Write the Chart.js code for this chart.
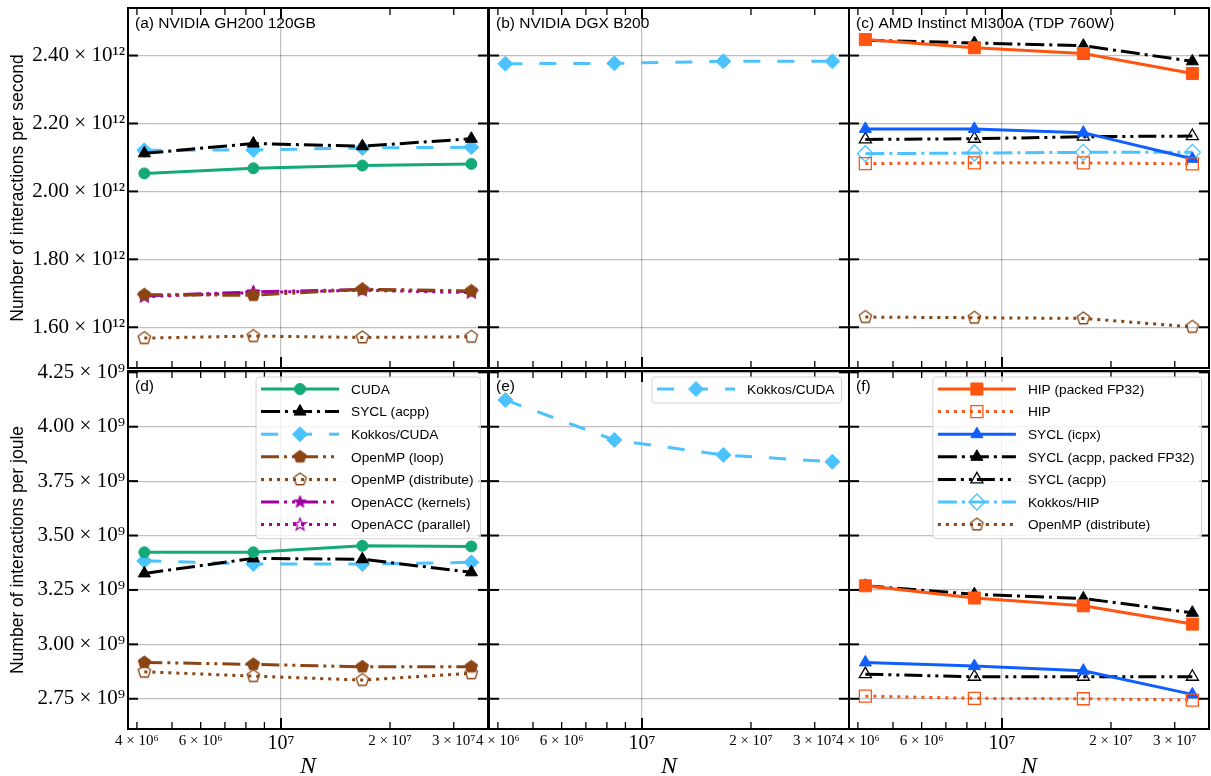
<!DOCTYPE html>
<html>
<head>
<meta charset="utf-8">
<script src="https://cdn.jsdelivr.net/npm/chart.js@4.4.1/dist/chart.umd.min.js"></script>
<style>
  html, body { margin: 0; padding: 0; background: #fff; width: 1211px; height: 776px; overflow: hidden; }
  .panel { position: absolute; }
</style>
</head>
<body>
<div id="wrap"></div>
<script>
// problem sizes N = 2^22 .. 2^25
const N = [4194304, 8388608, 16777216, 33554432];

// (a) NVIDIA GH200, interactions per second
const ghCuda        = [2.053e12, 2.068e12, 2.076e12, 2.081e12];
const ghSycl        = [2.112e12, 2.141e12, 2.133e12, 2.155e12];
const ghKokkos      = [2.121e12, 2.122e12, 2.128e12, 2.130e12];
const ghOmpLoop     = [1.696e12, 1.694e12, 1.712e12, 1.707e12];
const ghOmpDist     = [1.568e12, 1.574e12, 1.570e12, 1.572e12];
const ghAccKernels  = [1.692e12, 1.704e12, 1.711e12, 1.705e12];
const ghAccParallel = [1.690e12, 1.702e12, 1.709e12, 1.702e12];
// (b) NVIDIA DGX B200
const b2Kokkos      = [2.376e12, 2.377e12, 2.383e12, 2.383e12];
// (c) AMD MI300A
const miHipPacked   = [2.447e12, 2.423e12, 2.406e12, 2.347e12];
const miHip         = [2.082e12, 2.084e12, 2.084e12, 2.081e12];
const miSyclIcpx    = [2.184e12, 2.184e12, 2.173e12, 2.096e12];
const miSyclPacked  = [2.445e12, 2.437e12, 2.429e12, 2.383e12];
const miSycl        = [2.153e12, 2.155e12, 2.161e12, 2.163e12];
const miKokkos      = [2.111e12, 2.113e12, 2.115e12, 2.115e12];
const miOmpDist     = [1.630e12, 1.628e12, 1.626e12, 1.601e12];

// (d) GH200, interactions per joule
const ghCudaJ       = [3.423e9, 3.423e9, 3.453e9, 3.450e9];
const ghSyclJ       = [3.326e9, 3.395e9, 3.391e9, 3.331e9];
const ghKokkosJ     = [3.384e9, 3.369e9, 3.369e9, 3.377e9];
const ghOmpLoopJ    = [2.917e9, 2.908e9, 2.897e9, 2.897e9];
const ghOmpDistJ    = [2.874e9, 2.854e9, 2.836e9, 2.867e9];
// (e) B200
const b2KokkosJ     = [4.123e9, 3.939e9, 3.870e9, 3.839e9];
// (f) MI300A
const miHipPackedJ  = [3.269e9, 3.213e9, 3.177e9, 3.093e9];
const miHipJ        = [2.762e9, 2.752e9, 2.750e9, 2.744e9];
const miSyclIcpxJ   = [2.917e9, 2.900e9, 2.879e9, 2.770e9];
const miSyclPackedJ = [3.269e9, 3.230e9, 3.211e9, 3.145e9];
const miSyclJ       = [2.863e9, 2.851e9, 2.851e9, 2.851e9];

// ticks
const xTicks = [4e6, 5e6, 6e6, 7e6, 8e6, 9e6, 1e7, 2e7, 3e7];
const xTickLabels = ['4 × 10⁶', '', '6 × 10⁶', '', '', '', '10⁷', '2 × 10⁷', '3 × 10⁷'];
const yTicksRate = [1.6e12, 1.8e12, 2.0e12, 2.2e12, 2.4e12];
const yLabelsRate = ['1.60 × 10¹²', '1.80 × 10¹²', '2.00 × 10¹²', '2.20 × 10¹²', '2.40 × 10¹²'];
const yTicksEnergy = [2.75e9, 3.0e9, 3.25e9, 3.5e9, 3.75e9, 4.0e9, 4.25e9];
const yLabelsEnergy = ['2.75 × 10⁹', '3.00 × 10⁹', '3.25 × 10⁹', '3.50 × 10⁹', '3.75 × 10⁹', '4.00 × 10⁹', '4.25 × 10⁹'];

const SANS = '"Liberation Sans", Arial, sans-serif';
const SERIF = '"Liberation Serif", "DejaVu Serif", serif';

const GREEN = '#14aa78', BLACK = '#000000', SKY = '#4cc2ff', BROWN = '#8b4513',
      PURPLE = '#a000a0', ORANGE = '#ff5511', BLUE = '#0f5fff';
const SOLID = [], DASH = [17, 17], DASHDOT = [19, 5, 3, 5], DASHDOTDOT = [18, 5, 3, 5, 3, 5], DOT = [3, 5];

// marker images for shapes Chart.js lacks
function polyMarker(n, r, color, isFilled, inner) {
  const s = Math.ceil(2 * r + 4);
  const c = document.createElement('canvas');
  c.width = c.height = s;
  const g = c.getContext('2d');
  g.translate(s / 2, s / 2);
  g.beginPath();
  const k = inner ? 2 * n : n;
  for (let i = 0; i < k; i++) {
    const a = -Math.PI / 2 + i * 2 * Math.PI / k;
    const rr = inner && i % 2 ? r * inner : r;
    g.lineTo(rr * Math.cos(a), rr * Math.sin(a));
  }
  g.closePath();
  if (isFilled) { g.fillStyle = color; g.fill(); }
  g.strokeStyle = color;
  g.lineWidth = isFilled ? 1 : 1.3;
  g.stroke();
  return c;
}
const pentFull = polyMarker(5, 6.5, BROWN, true);
const pentOpen = polyMarker(5, 6.5, BROWN, false);
const starFull = polyMarker(5, 6.5, PURPLE, true, 0.42);
const starOpen = polyMarker(5, 6.5, PURPLE, false, 0.42);

const filled = (style, r, color) => ({ pointStyle: style, pointRadius: r, pointBackgroundColor: color, pointBorderWidth: 1 });
const hollow = (style, r) => ({ pointStyle: style, pointRadius: r, pointBackgroundColor: 'rgba(0,0,0,0)', pointBorderWidth: 1.3 });

function series(label, vals, color, dash, marker) {
  return Object.assign({
    label: label,
    data: vals ? N.map((x, i) => ({ x: x, y: vals[i] })) : [],
    borderColor: color, borderWidth: 3, borderDash: dash,
    borderCapStyle: 'butt', borderJoinStyle: 'round',
    tension: 0, fill: false, pointBorderColor: color, pointHoverRadius: 0
  }, marker);
}

const rows = [
  { top: 8, h: 360, min: 1.48e12, max: 2.54e12, ticks: yTicksRate, labels: yLabelsRate,
    title: 'Number of interactions per second' },
  { top: 371, h: 358, min: 2.611e9, max: 4.256e9, ticks: yTicksEnergy, labels: yLabelsEnergy,
    title: 'Number of interactions per joule' }
];
const colLefts = [128, 489, 849];
const plotW = 360;
const xMin = 3.78e6, xMax = 3.73e7;

const panels = [
  { row: 0, col: 0, title: '(a) NVIDIA GH200 120GB', legend: false, datasets: [
    series('CUDA', ghCuda, GREEN, SOLID, filled('circle', 5.5, GREEN)),
    series('SYCL (acpp)', ghSycl, BLACK, DASHDOT, filled('triangle', 7, BLACK)),
    series('Kokkos/CUDA', ghKokkos, SKY, DASH, filled('rectRot', 7.5, SKY)),
    series('OpenMP (loop)', ghOmpLoop, BROWN, DASHDOTDOT, filled(pentFull, 6)),
    series('OpenMP (distribute)', ghOmpDist, BROWN, DOT, hollow(pentOpen, 6)),
    series('OpenACC (kernels)', ghAccKernels, PURPLE, DASHDOTDOT, filled(starFull, 6)),
    series('OpenACC (parallel)', ghAccParallel, PURPLE, DOT, hollow(starOpen, 6))
  ]},
  { row: 0, col: 1, title: '(b) NVIDIA DGX B200', legend: false, datasets: [
    series('Kokkos/CUDA', b2Kokkos, SKY, DASH, filled('rectRot', 7.5, SKY))
  ]},
  { row: 0, col: 2, title: '(c) AMD Instinct MI300A (TDP 760W)', legend: false, datasets: [
    series('HIP (packed FP32)', miHipPacked, ORANGE, SOLID, filled('rect', 8.5, ORANGE)),
    series('HIP', miHip, ORANGE, DOT, hollow('rect', 8.5)),
    series('SYCL (icpx)', miSyclIcpx, BLUE, SOLID, filled('triangle', 7, BLUE)),
    series('SYCL (acpp, packed FP32)', miSyclPacked, BLACK, DASHDOT, filled('triangle', 7, BLACK)),
    series('SYCL (acpp)', miSycl, BLACK, DASHDOTDOT, hollow('triangle', 7)),
    series('Kokkos/HIP', miKokkos, SKY, DASHDOT, hollow('rectRot', 8)),
    series('OpenMP (distribute)', miOmpDist, BROWN, DOT, hollow(pentOpen, 6))
  ]},
  { row: 1, col: 0, title: '(d)', legend: true, datasets: [
    series('CUDA', ghCudaJ, GREEN, SOLID, filled('circle', 5.5, GREEN)),
    series('SYCL (acpp)', ghSyclJ, BLACK, DASHDOT, filled('triangle', 7, BLACK)),
    series('Kokkos/CUDA', ghKokkosJ, SKY, DASH, filled('rectRot', 7.5, SKY)),
    series('OpenMP (loop)', ghOmpLoopJ, BROWN, DASHDOTDOT, filled(pentFull, 6)),
    series('OpenMP (distribute)', ghOmpDistJ, BROWN, DOT, hollow(pentOpen, 6)),
    series('OpenACC (kernels)', null, PURPLE, DASHDOTDOT, filled(starFull, 6)),
    series('OpenACC (parallel)', null, PURPLE, DOT, hollow(starOpen, 6))
  ]},
  { row: 1, col: 1, title: '(e)', legend: true, datasets: [
    series('Kokkos/CUDA', b2KokkosJ, SKY, DASH, filled('rectRot', 7.5, SKY))
  ]},
  { row: 1, col: 2, title: '(f)', legend: true, datasets: [
    series('HIP (packed FP32)', miHipPackedJ, ORANGE, SOLID, filled('rect', 8.5, ORANGE)),
    series('HIP', miHipJ, ORANGE, DOT, hollow('rect', 8.5)),
    series('SYCL (icpx)', miSyclIcpxJ, BLUE, SOLID, filled('triangle', 7, BLUE)),
    series('SYCL (acpp, packed FP32)', miSyclPackedJ, BLACK, DASHDOT, filled('triangle', 7, BLACK)),
    series('SYCL (acpp)', miSyclJ, BLACK, DASHDOTDOT, hollow('triangle', 7)),
    series('Kokkos/HIP', null, SKY, DASHDOT, hollow('rectRot', 8)),
    series('OpenMP (distribute)', null, BROWN, DOT, hollow(pentOpen, 6))
  ]}
];

function drawMarker(ctx, d, x, y) {
  ctx.save();
  ctx.setLineDash([]);
  ctx.fillStyle = d.pointBackgroundColor || d.borderColor;
  ctx.strokeStyle = d.pointBorderColor;
  ctx.lineWidth = d.pointBorderWidth;
  if (Chart.helpers && Chart.helpers.drawPoint) {
    Chart.helpers.drawPoint(ctx, { pointStyle: d.pointStyle, radius: d.pointRadius, rotation: 0, borderWidth: d.pointBorderWidth }, x, y);
  }
  ctx.restore();
}

function drawLegend(chart, ctx, a) {
  const ds = chart.data.datasets;
  ctx.font = '13.7px ' + SANS;
  const tw = Math.max.apply(null, ds.map(d => ctx.measureText(d.label).width));
  const rowH = 22.6, lineLen = 78;
  const w = 5 + lineLen + 12 + tw + 7;
  const h = 12 + rowH * (ds.length - 1) + 14;
  const bx = a.right - 7.5 - w, by = a.top + 6;
  ctx.save();
  ctx.beginPath();
  if (ctx.roundRect) ctx.roundRect(bx, by, w, h, 3); else ctx.rect(bx, by, w, h);
  ctx.fillStyle = 'rgba(255,255,255,0.8)';
  ctx.fill();
  ctx.strokeStyle = '#d4d4d4';
  ctx.lineWidth = 1;
  ctx.stroke();
  ds.forEach((d, i) => {
    const cy = by + 12 + i * rowH;
    ctx.setLineDash(d.borderDash);
    ctx.lineCap = 'butt';
    ctx.strokeStyle = d.borderColor;
    ctx.lineWidth = d.borderWidth;
    ctx.beginPath();
    ctx.moveTo(bx + 5, cy);
    ctx.lineTo(bx + 5 + lineLen, cy);
    ctx.stroke();
    ctx.setLineDash([]);
    drawMarker(ctx, d, bx + 5 + lineLen / 2, cy);
    ctx.fillStyle = '#000';
    ctx.textAlign = 'left';
    ctx.textBaseline = 'middle';
    ctx.fillText(d.label, bx + 5 + lineLen + 12, cy + 1);
  });
  ctx.restore();
}

const framePlugin = {
  id: 'frame',
  afterDraw(chart, args, opts) {
    const { ctx, chartArea: a, scales } = chart;
    const line = (x1, y1, x2, y2) => { ctx.beginPath(); ctx.moveTo(x1, y1); ctx.lineTo(x2, y2); ctx.stroke(); };
    ctx.save();
    ctx.strokeStyle = '#000';
    xTicks.forEach(v => {
      const px = scales.x.getPixelForValue(v);
      const major = v === 1e7;
      ctx.lineWidth = major ? 2 : 1.3;
      const len = major ? 11 : 7;
      line(px, a.bottom, px, a.bottom - len);
      line(px, a.top, px, a.top + len);
    });
    ctx.lineWidth = 2;
    scales.y.ticks.forEach(t => {
      const py = scales.y.getPixelForValue(t.value);
      line(a.left, py, a.left + 10, py);
      line(a.right, py, a.right - 10, py);
    });
    ctx.strokeRect(a.left, a.top, a.right - a.left, a.bottom - a.top);
    ctx.fillStyle = '#000';
    ctx.font = '15.5px ' + SANS;
    ctx.textAlign = 'left';
    ctx.textBaseline = 'middle';
    ctx.fillText(opts.title, a.left + 7, a.top + 15.5);
    if (opts.legend) drawLegend(chart, ctx, a);
    ctx.restore();
  }
};

const wrap = document.getElementById('wrap');
panels.forEach(p => {
  const r = rows[p.row];
  const left = p.col === 0;
  const bottom = p.row === 1;
  const padL = left ? 128 : 30, padR = 16, padT = 16, padB = bottom ? 55 : 16;
  const W = padL + plotW + padR, H = padT + r.h + padB;
  const div = document.createElement('div');
  div.className = 'panel';
  div.style.left = (colLefts[p.col] - padL) + 'px';
  div.style.top = (r.top - padT) + 'px';
  div.style.width = W + 'px';
  div.style.height = H + 'px';
  const cv = document.createElement('canvas');
  cv.width = W; cv.height = H;
  div.appendChild(cv);
  wrap.appendChild(div);

  new Chart(cv, {
    type: 'line',
    data: { datasets: p.datasets },
    options: {
      responsive: false,
      animation: false,
      events: [],
      layout: { padding: { top: padT, right: padR, left: 0, bottom: 0 } },
      plugins: {
        legend: { display: false },
        tooltip: { enabled: false },
        frame: { title: p.title, legend: p.legend }
      },
      scales: {
        x: {
          type: 'logarithmic', min: xMin, max: xMax,
          afterBuildTicks: s => { s.ticks = xTicks.map(v => ({ value: v })); },
          afterFit: s => { s.height = padB; },
          ticks: {
            display: bottom, autoSkip: false, maxRotation: 0, minRotation: 0, padding: 3, color: '#000',
            callback: (v, i) => xTickLabels[i],
            font: c => ({ family: SERIF, size: (c.tick && c.tick.value === 1e7) ? 20 : 15 })
          },
          grid: {
            drawTicks: false, lineWidth: 1.2,
            color: c => (c.tick && c.tick.value === 1e7) ? 'rgba(0,0,0,0.25)' : 'rgba(0,0,0,0)'
          },
          border: { display: false },
          title: {
            display: bottom, text: 'N', color: '#000',
            font: { family: SERIF, size: 24, style: 'italic', lineHeight: 1 },
            padding: { top: 0, bottom: 5 }
          }
        },
        y: {
          type: 'linear', min: r.min, max: r.max,
          afterBuildTicks: s => { s.ticks = r.ticks.map(v => ({ value: v })); },
          afterFit: s => { s.width = padL; },
          ticks: {
            display: left, padding: 3, color: '#000',
            callback: (v, i) => r.labels[i],
            font: { family: SERIF, size: 21 }
          },
          grid: { drawTicks: false, lineWidth: 1.2, color: 'rgba(0,0,0,0.25)' },
          border: { display: false },
          title: {
            display: left, text: r.title, color: '#000',
            font: { family: SANS, size: 17.5 },
            padding: { top: 8, bottom: 0 }
          }
        }
      }
    },
    plugins: [framePlugin]
  });
});
</script>
</body>
</html>
